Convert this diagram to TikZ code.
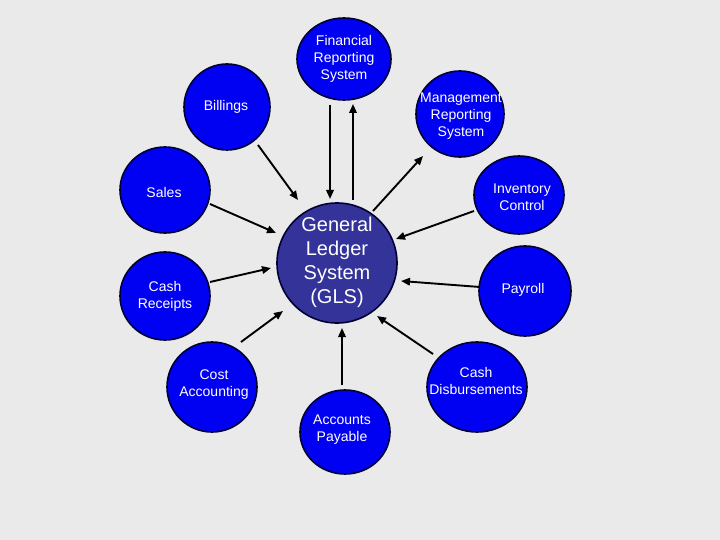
\documentclass[tikz,border=0pt]{standalone}
\usepackage{fontspec}
\setmainfont{Liberation Sans}
\usetikzlibrary{arrows.meta}
\definecolor{bg}{HTML}{EAEAEA}
\definecolor{sysblue}{HTML}{0000F2}
\definecolor{glsblue}{HTML}{333399}
\definecolor{rim}{HTML}{000033}
\tikzset{
  disc/.style={draw=rim, line width=1.6pt, fill=sysblue},
  lbl/.style={text=white, align=center, font=\fontsize{14}{17}\selectfont},
  flow/.style={line width=1.9pt, -{Triangle[length=9pt,width=7.5pt]}},
}
\begin{document}
\begin{tikzpicture}[x=1pt,y=-1pt]
\fill[bg] (0,0) rectangle (720,540);
\useasboundingbox (0,0) rectangle (720,540);
% circles
\draw[draw=rim, line width=1.6pt, fill=glsblue] (337,263) circle [radius=60];
\node[text=white, align=center, font=\fontsize{20}{24}\selectfont] (gls) at (337,262) {General\\Ledger\\System\\(GLS)};
\draw[disc] (344,59) ellipse [x radius=47, y radius=41];
\node[lbl] (frs) at (344,59) {Financial\\Reporting\\System};
\draw[disc] (227,107) ellipse [x radius=43, y radius=43];
\node[lbl] (bill) at (226,107) {Billings};
\draw[disc] (460,114) ellipse [x radius=44, y radius=43];
\node[lbl] (mrs) at (461,116) {Management\\Reporting\\System};
\draw[disc] (165,190) ellipse [x radius=45, y radius=43];
\node[lbl] (sales) at (164,192) {Sales};
\draw[disc] (165,296) ellipse [x radius=45, y radius=44];
\node[lbl] (cr) at (165,296) {Cash\\Receipts};
\draw[disc] (519,195) ellipse [x radius=45, y radius=39];
\node[lbl] (inv) at (522,197) {Inventory\\Control};
\draw[disc] (525,291) ellipse [x radius=46, y radius=45];
\node[lbl] (pay) at (523,290) {Payroll};
\draw[disc] (212,387) ellipse [x radius=45, y radius=45];
\node[lbl] (cost) at (214,385) {Cost\\Accounting};
\draw[disc] (345,432) ellipse [x radius=45, y radius=42];
\node[lbl] (ap) at (342,430) {Accounts\\Payable};
\draw[disc] (477,387) ellipse [x radius=50, y radius=45];
\node[lbl] (cd) at (476,381) {Cash\\Disbursements};
% connector endpoints
\coordinate (b1) at (258,145); \coordinate (b2) at (298,200);
\coordinate (f1) at (330,105); \coordinate (f2) at (330,199);
\coordinate (f3) at (353,200); \coordinate (f4) at (353,104);
\coordinate (m1) at (373,211); \coordinate (m2) at (423,156);
\coordinate (s1) at (210,204); \coordinate (s2) at (276,233);
\coordinate (c1) at (210,282); \coordinate (c2) at (271,268);
\coordinate (k1) at (241,342); \coordinate (k2) at (283,311);
\coordinate (a1) at (342,385); \coordinate (a2) at (342,328);
\coordinate (d1) at (433,354); \coordinate (d2) at (377,316);
\coordinate (p1) at (480,287); \coordinate (p2) at (401,281);
\coordinate (i1) at (474,211); \coordinate (i2) at (396,239);
\draw[flow] (b1) -- (b2);
\draw[flow] (f1) -- (f2);
\draw[flow] (f3) -- (f4);
\draw[flow] (m1) -- (m2);
\draw[flow] (s1) -- (s2);
\draw[flow] (c1) -- (c2);
\draw[flow] (k1) -- (k2);
\draw[flow] (a1) -- (a2);
\draw[flow] (d1) -- (d2);
\draw[flow] (p1) -- (p2);
\draw[flow] (i1) -- (i2);
\end{tikzpicture}
\end{document}
